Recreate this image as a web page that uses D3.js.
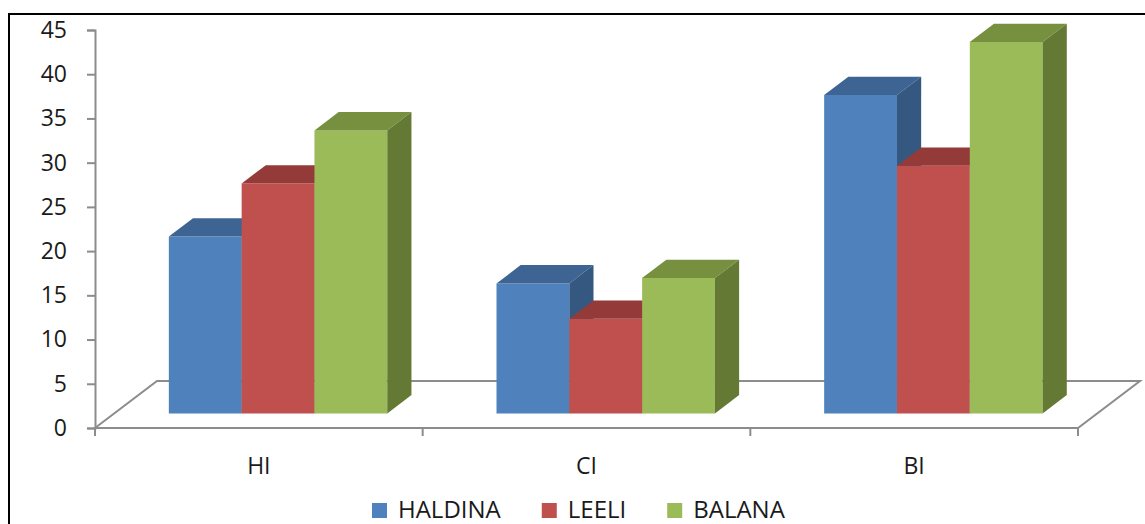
<!DOCTYPE html>
<html>
<head>
<meta charset="utf-8">
<script src="https://cdn.jsdelivr.net/npm/d3@7"></script>
<style>
  body { margin: 0; background: #fff; }
  text { font-family: "Open Sans", "Liberation Sans", sans-serif; fill: #1a1a1a; }
</style>
</head>
<body>
<script>
var categories = ["HI", "CI", "BI"];
var seriesNames = ["HALDINA", "LEELI", "BALANA"];
var haldina = [20, 14.7, 36];
var leeli = [26, 10.7, 28];
var balana = [32, 15.3, 42];
var yTickValues = [0, 5, 10, 15, 20, 25, 30, 35, 40, 45];

var seriesValues = [haldina, leeli, balana];
// front / top / side shades for each series
var colors = [
	{ front: "#4f81bd", top: "#3d6493", side: "#34587f" },
	{ front: "#c0504d", top: "#943b39", side: "#8c3735" },
	{ front: "#9bbb59", top: "#77903f", side: "#647a34" }
];

var width = 1145, height = 524;
var depthX = 62, depthY = 47;   // full floor depth offset
var t0 = 0.31, t1 = 0.70;       // bar front / back depth

var svg = d3.select("body").append("svg")
	.attr("width", width)
	.attr("height", height);

// chart border
svg.append("rect")
	.attr("x", 9).attr("y", 14)
	.attr("width", 1200).attr("height", 600)
	.style("fill", "none")
	.style("stroke", "#000")
	.style("stroke-width", 2);

var y = d3.scaleLinear().domain([0, 45]).range([428, 30]);
var x = d3.scaleBand().domain(categories).range([95, 1078]);
var bw = x.bandwidth();
var barW = bw / 4.5;
var inner = d3.scaleBand().domain(seriesNames).range([barW * 0.75, bw - barW * 0.75]);

function proj(px, v, t) {
	return [px + depthX * t, y(v) - depthY * t];
}
function poly(pts) {
	return pts.map(function (p) { return p.join(","); }).join(" ");
}

// floor
var x0 = x.range()[0], x1 = x.range()[1];
svg.append("polygon")
	.attr("points", poly([proj(x0, 0, 0), proj(x0, 0, 1), proj(x1, 0, 1), proj(x1, 0, 0)]))
	.style("fill", "none")
	.style("stroke", "#8c8c8c")
	.style("stroke-width", 2);

// value axis
var yAxis = svg.append("g")
	.attr("transform", "translate(95,0)")
	.call(d3.axisLeft(y).tickValues(yTickValues).tickSize(8).tickPadding(20));
yAxis.select(".domain").style("stroke", "#8c8c8c").style("stroke-width", 2);
yAxis.selectAll(".tick line").style("stroke", "#8c8c8c").style("stroke-width", 2);
yAxis.selectAll("text").style("font-size", "23px").style("fill", "#1a1a1a");

// category axis ticks
var bounds = categories.map(function (c) { return x(c); }).concat([x1]);
svg.selectAll("line.cat-tick")
	.data(bounds)
	.enter()
	.append("line")
	.attr("class", "cat-tick")
	.attr("x1", function (d) { return d; })
	.attr("x2", function (d) { return d; })
	.attr("y1", y(0))
	.attr("y2", y(0) + 8)
	.style("stroke", "#8c8c8c")
	.style("stroke-width", 2);

svg.selectAll("text.cat")
	.data(categories)
	.enter()
	.append("text")
	.attr("class", "cat")
	.attr("x", function (d) { return x(d) + bw / 2; })
	.attr("y", 466)
	.attr("dy", "0.35em")
	.style("text-anchor", "middle")
	.style("font-size", "23px")
	.text(function (d) { return d; });

// bars
categories.forEach(function (c, ci) {
	seriesNames.forEach(function (s, si) {
		var v = seriesValues[si][ci];
		var xl = x(c) + inner(s), xr = xl + inner.bandwidth();
		var g = svg.append("g").attr("class", "bar");
		g.append("polygon")
			.attr("points", poly([proj(xl, 0, t0), proj(xr, 0, t0), proj(xr, v, t0), proj(xl, v, t0)]))
			.style("fill", colors[si].front);
		g.append("polygon")
			.attr("points", poly([proj(xl, v, t0), proj(xr, v, t0), proj(xr, v, t1), proj(xl, v, t1)]))
			.style("fill", colors[si].top);
		g.append("polygon")
			.attr("points", poly([proj(xr, 0, t0), proj(xr, 0, t1), proj(xr, v, t1), proj(xr, v, t0)]))
			.style("fill", colors[si].side);
	});
});

// legend
var lx = 372;
seriesNames.forEach(function (s, si) {
	svg.append("rect")
		.attr("x", lx).attr("y", 503)
		.attr("width", 15).attr("height", 15)
		.style("fill", colors[si].front);
	var t = svg.append("text")
		.attr("x", lx + 26)
		.attr("y", 518)
		.style("font-size", "24px")
		.text(s);
	lx = lx + 26 + t.node().getComputedTextLength() + 41;
});
</script>
</body>
</html>
